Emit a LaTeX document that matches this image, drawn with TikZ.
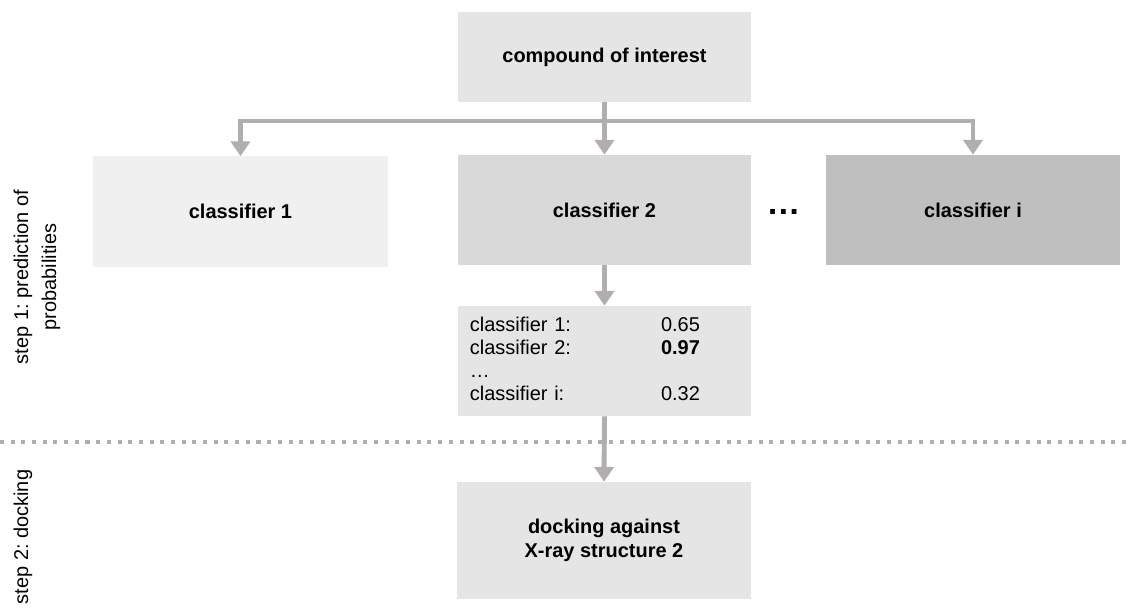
\documentclass[tikz,border=0pt]{standalone}
\usepackage{fontspec}
\setmainfont{Liberation Sans}
\usepackage{xcolor}
\usetikzlibrary{arrows.meta,positioning}
\definecolor{boxgray}{HTML}{E6E5E6}
\definecolor{clsone}{HTML}{F0F0F0}
\definecolor{clstwo}{HTML}{D9D9D9}
\definecolor{clsmany}{HTML}{BFBFBF}
\definecolor{linegray}{HTML}{B0AEAE}
\newcommand{\diagfont}{\fontsize{14.2}{17.5}\selectfont}
\frenchspacing

\begin{document}
\begin{tikzpicture}[x=0.025cm, y=-0.025cm,
    box/.style={rectangle, fill=boxgray, minimum width=7.325cm, minimum height=2.25cm, inner sep=0pt, font=\diagfont\bfseries, align=center},
    clsbox/.style={rectangle, minimum width=7.35cm, minimum height=2.75cm, inner sep=0pt, font=\diagfont\bfseries},
    conn/.style={draw=linegray, line width=3.5pt, -{Triangle[length=10.5pt, width=13.5pt]}},
    stage/.style={rotate=90, align=center, font=\fontsize{14.2}{20}\selectfont}
]
    \useasboundingbox (0,0) rectangle (1127,614);

    % input
    \node[box] (comp) at (604.5,57) {compound of interest};

    % classifiers
    \node[clsbox, fill=clsone] (cls1) at (240.5,211.5) {classifier 1};
    \node[clsbox, fill=clstwo, minimum width=7.325cm] (cls2) at (604.5,210) {classifier 2};
    \node[clsbox, fill=clsmany] (clsi) at (973,210) {classifier i};
    \node[font=\fontsize{24}{28}\selectfont\bfseries, anchor=base] (dots) at (783.5,214.5) {…};

    % probabilities
    \node[box, minimum height=2.75cm, font=\fontsize{14.2}{16.4}\selectfont, text width=6.725cm, inner xsep=0.3cm, align=left] (prob) at (604.5,361) {%
        \begin{tabular}{@{}p{4.775cm}@{}l@{}}
        classifier 1: & 0.65\\
        classifier 2: & \textbf{0.97}\\
        … & \\
        classifier i: & 0.32
        \end{tabular}};

    % docking
    \node[box, minimum height=2.925cm] (dock) at (604,540.5) {docking against\\X-ray structure 2};

    % stage labels
    \node[stage] (stage1) at (37,277) {step 1: prediction of\\probabilities};
    \node[stage] (stage2) at (23,537) {step 2: docking};

    % separator
    \coordinate (sepl) at (0,442);
    \coordinate (sepr) at (1127,442);
    \draw[linegray, line width=2.85pt, dash pattern=on 2.85pt off 4.75pt] (sepl) -- (sepr);

    % connectors
    \coordinate (split) at (604.5,121);
    \draw[conn] (comp.south) -- (cls2.north);
    \draw[conn] (split) -| (cls1.north);
    \draw[conn] (split) -| (clsi.north);
    \draw[conn] (cls2.south) -- (prob.north);
    \draw[conn] (prob.south) -- (dock.north);
\end{tikzpicture}
\end{document}
